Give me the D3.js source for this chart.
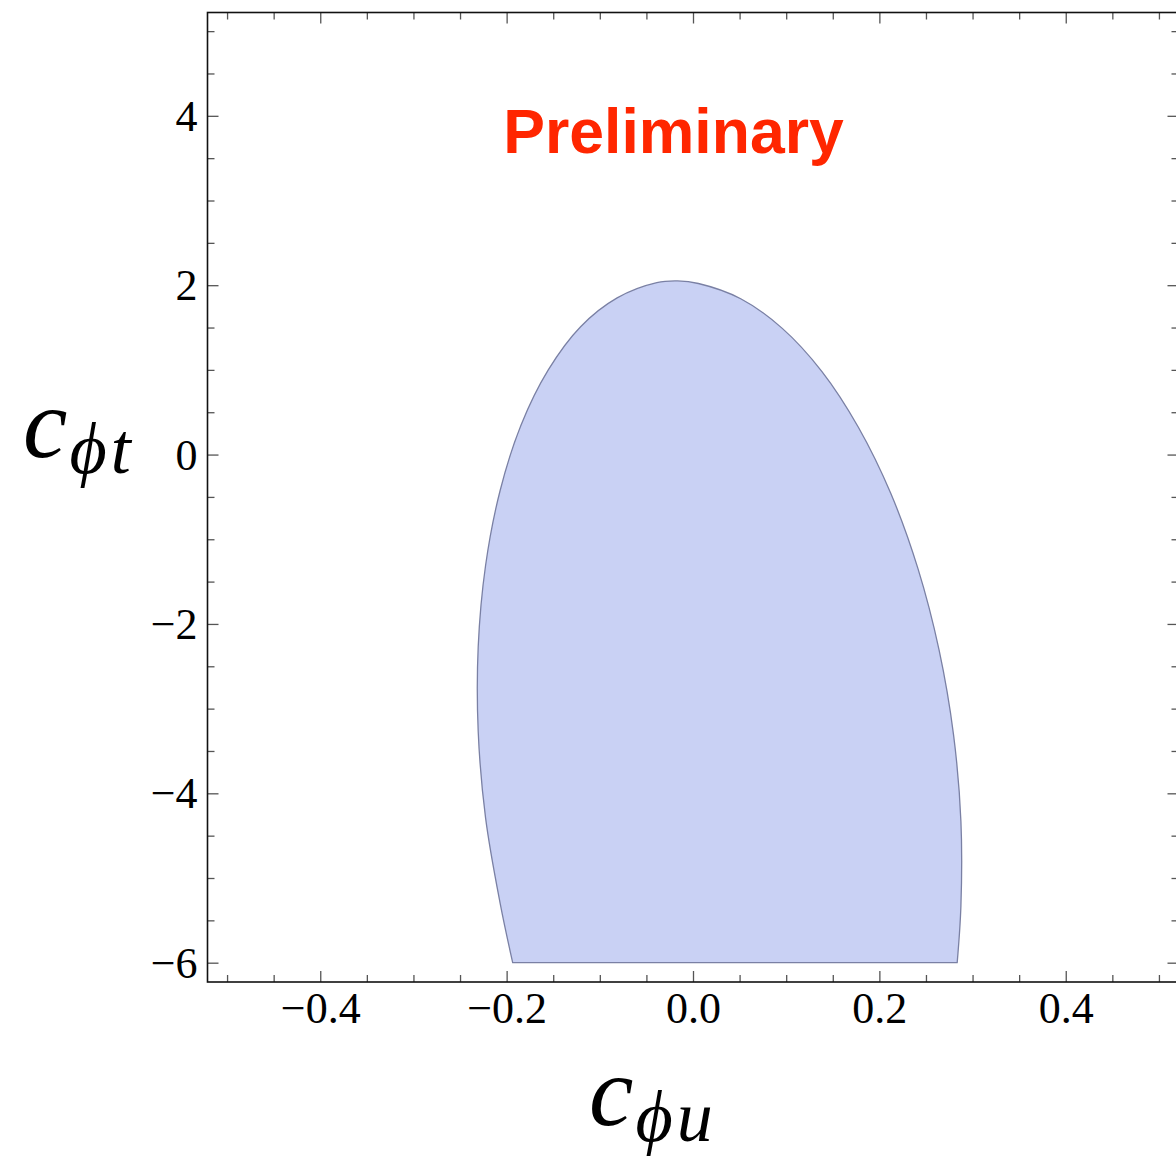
<!DOCTYPE html>
<html>
<head>
<meta charset="utf-8">
<script src="https://cdn.jsdelivr.net/npm/d3@7"></script>
<style>
  html, body { margin: 0; padding: 0; background: #fff; }
  svg { display: block; }
</style>
</head>
<body>
<svg id="chart" width="1176" height="1160"></svg>
<script>
// Allowed region in the (c_phi_u, c_phi_t) plane: boundary traced from the
// lower-left corner, up over the top and down to the lower-right corner.
const regionCphiU = [
  -0.1935, -0.2071, -0.2226, -0.2305, -0.2305, -0.2226, -0.2071, -0.1845,
  -0.1553, -0.1206, -0.0814, -0.0388, -0.0166, 0.0058, 0.0512, 0.0958,
  0.1384, 0.1776, 0.2123, 0.2415, 0.2641, 0.2796, 0.2875, 0.2875, 0.2835
];
const regionCphiT = [
  -6.00, -5.29, -4.29, -3.27, -2.27, -1.31, -0.43, 0.35,
  1.00, 1.51, 1.85, 2.03, 2.05, 2.02, 1.84, 1.49,
  0.98, 0.32, -0.46, -1.35, -2.31, -3.31, -4.33, -5.33, -6.00
];

// Axis ranges and ticks
const xDomain = [-0.521, 0.521];
const yDomain = [-6.228, 5.22];
const xMajorTicks = [-0.4, -0.2, 0.0, 0.2, 0.4];
const xTickLabels = ["\u22120.4", "\u22120.2", "0.0", "0.2", "0.4"];
const xMinorTicks = [-0.5, -0.45, -0.35, -0.3, -0.25, -0.15, -0.1, -0.05,
                     0.05, 0.1, 0.15, 0.25, 0.3, 0.35, 0.45, 0.5];
const yMajorTicks = [-6, -4, -2, 0, 2, 4];
const yTickLabels = ["\u22126", "\u22124", "\u22122", "0", "2", "4"];
const yMinorTicks = [-5.5, -5, -4.5, -3.5, -3, -2.5, -1.5, -1, -0.5,
                     0.5, 1, 1.5, 2.5, 3, 3.5, 4.5, 5];

const plot = { left: 207.5, right: 1178.5, top: 12.5, bottom: 982 };
const svg = d3.select("#chart");

const x = d3.scaleLinear().domain(xDomain).range([plot.left, plot.right]);
const y = d3.scaleLinear().domain(yDomain).range([plot.bottom, plot.top]);

// Filled region
const pts = regionCphiU.map((u, i) => [u, regionCphiT[i]]);
const line = d3.line()
  .x(d => x(d[0]))
  .y(d => y(d[1]))
  .curve(d3.curveCatmullRom.alpha(0.5));

svg.append("path")
  .attr("d", line(pts) + "Z")
  .attr("fill", "#c9d1f4")
  .attr("stroke", "#7a80a4")
  .attr("stroke-width", 1.3)
  .attr("stroke-linejoin", "round");

// Ticks on all four sides, pointing inward
const MAJOR = 11, MINOR = 7;
const tickColor = "#555";

function addAxis(axisFn, scale, values, size, transform, labels) {
  const g = svg.append("g")
    .attr("transform", transform)
    .call(axisFn(scale).tickValues(values).tickSize(size)
      .tickFormat(labels ? (d, i) => labels[i] : ""));
  g.select(".domain").remove();
  g.selectAll(".tick line").attr("stroke", tickColor).attr("stroke-width", 1.3);
  return g;
}

// bottom
const gxb = addAxis(d3.axisBottom, x, xMajorTicks, -MAJOR, `translate(0,${plot.bottom})`, xTickLabels);
addAxis(d3.axisBottom, x, xMinorTicks, -MINOR, `translate(0,${plot.bottom})`, null);
// top
addAxis(d3.axisTop, x, xMajorTicks, -MAJOR, `translate(0,${plot.top})`, null);
addAxis(d3.axisTop, x, xMinorTicks, -MINOR, `translate(0,${plot.top})`, null);
// left
const gyl = addAxis(d3.axisLeft, y, yMajorTicks, -MAJOR, `translate(${plot.left},0)`, yTickLabels);
addAxis(d3.axisLeft, y, yMinorTicks, -MINOR, `translate(${plot.left},0)`, null);
// right
addAxis(d3.axisRight, y, yMajorTicks, -MAJOR, `translate(${plot.right},0)`, null);
addAxis(d3.axisRight, y, yMinorTicks, -MINOR, `translate(${plot.right},0)`, null);

// tick label styling
const labelFont = "'Liberation Serif', 'Times New Roman', serif";
gxb.selectAll(".tick text")
  .attr("y", 41).attr("dy", null)
  .attr("font-family", labelFont)
  .attr("font-size", 44).attr("fill", "#000");
gyl.selectAll(".tick text")
  .attr("x", -10).attr("dy", "0.33em")
  .attr("font-family", labelFont)
  .attr("font-size", 44).attr("fill", "#000");

// frame
svg.append("rect")
  .attr("x", plot.left).attr("y", plot.top)
  .attr("width", plot.right - plot.left).attr("height", plot.bottom - plot.top)
  .attr("fill", "none").attr("stroke", "#111").attr("stroke-width", 1.6);

// watermark
svg.append("text")
  .attr("x", 673.5).attr("y", 153)
  .attr("text-anchor", "middle")
  .attr("font-family", "'Liberation Sans', Arial, sans-serif")
  .attr("font-weight", "bold")
  .attr("font-size", 62.5)
  .attr("fill", "#ff2600")
  .text("Preliminary");

// axis titles
function mathLabel(xPos, yPos, sub) {
  const t = svg.append("text")
    .attr("x", xPos).attr("y", yPos)
    .attr("font-family", labelFont)
    .attr("font-style", "italic")
    .attr("fill", "#000");
  t.append("tspan").attr("font-size", 100).text("c");
  t.append("tspan").attr("font-size", 72).attr("dy", 16).attr("dx", 2)
    .attr("letter-spacing", 4).text(sub);
}
mathLabel(23, 457, "\u03d5t");
mathLabel(589, 1125, "\u03d5u");
</script>
</body>
</html>
